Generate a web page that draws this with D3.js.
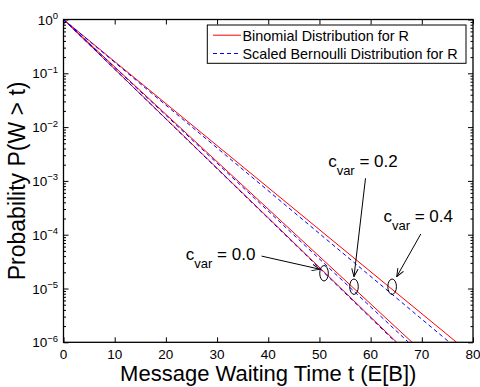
<!DOCTYPE html>
<html>
<head>
<meta charset="utf-8">
<script src="https://cdn.jsdelivr.net/npm/d3@7/dist/d3.min.js"></script>
<style>
  body { margin: 0; background: #fff; }
  svg text { font-family: "Liberation Sans", Arial, Helvetica, sans-serif; fill: #000; }
</style>
</head>
<body>
<div id="chart"></div>
<script>
// ---- data ----
// every curve is a straight line on the log axis from P=1 at t=0
// down to P=1e-6 at the t given below
var cvars = ["0.0", "0.2", "0.4"];
var startT = [0, 0, 0];
var startP = [1, 1, 1];
var binomialEndT = [65.1, 68.1, 76.8];   // red, solid
var bernoulliEndT = [64.9, 67.4, 75.4];  // blue, dashed
var endP = [1e-6, 1e-6, 1e-6];

// marked points (ellipses) on the curves
var markT = [50.9, 56.75, 64.2];
var markP = [1.92e-5, 1.08e-5, 1.08e-5];
// label anchor and arrow start/end, in data units
var labelT = [23.9, 51.7, 62.5];
var labelP = [3.39e-5, 1.84e-3, 1.75e-4];
var arrowFromT = [38.7, 59.0, 69.8];
var arrowFromP = [4.0e-5, 1.12e-3, 1.03e-4];
var arrowToT = [50.1, 56.75, 65.1];
var arrowToP = [2.28e-5, 1.66e-5, 1.66e-5];

var xTicks = [0, 10, 20, 30, 40, 50, 60, 70, 80];
var yExponents = [0, -1, -2, -3, -4, -5, -6];
var legendLabels = ["Binomial Distribution for R", "Scaled Bernoulli Distribution for R"];

// ---- drawing ----
var w = 480, h = 387;
var padL = 63.5, padR = 473, padT = 19.5, padB = 342.3;

var svg = d3.select("#chart").append("svg")
    .attr("width", w)
    .attr("height", h);

var x = d3.scaleLinear().domain([0, 80]).range([padL, padR]);
var y = d3.scaleLog().domain([1e-6, 1]).range([padB, padT]);

var defs = svg.append("defs");
defs.append("clipPath").attr("id", "plot")
   .append("rect")
   .attr("x", padL).attr("y", padT)
   .attr("width", padR - padL).attr("height", padB - padT);

defs.append("marker")
   .attr("id", "arrow")
   .attr("viewBox", "0 0 10 10")
   .attr("refX", 10).attr("refY", 5)
   .attr("markerWidth", 8).attr("markerHeight", 8)
   .attr("markerUnits", "userSpaceOnUse")
   .attr("orient", "auto")
   .append("path")
   .attr("d", "M0,1 L10,5 L0,9")
   .attr("fill", "none")
   .attr("stroke", "#000")
   .attr("stroke-width", 1.2);

// axes with inward ticks
var minorVals = [];
yExponents.forEach(function(e) {
    if (e < 0) {
        for (var k = 2; k <= 9; k++) minorVals.push(k * Math.pow(10, e));
    }
});
var majorVals = yExponents.map(function(e) { return Math.pow(10, e); });

var axisG = svg.append("g");
function inward(axis, size) { return axis.tickSizeInner(-size).tickSizeOuter(0).tickFormat(""); }

axisG.append("g").attr("transform", "translate(0," + padB + ")")
     .call(inward(d3.axisBottom(x).tickValues(xTicks), 5));
axisG.append("g").attr("transform", "translate(0," + padT + ")")
     .call(inward(d3.axisTop(x).tickValues(xTicks), 5));
axisG.append("g").attr("transform", "translate(" + padL + ",0)")
     .call(inward(d3.axisLeft(y).tickValues(majorVals), 5));
axisG.append("g").attr("transform", "translate(" + padR + ",0)")
     .call(inward(d3.axisRight(y).tickValues(majorVals), 5));
axisG.append("g").attr("transform", "translate(" + padL + ",0)")
     .call(inward(d3.axisLeft(y).tickValues(minorVals), 2.5));
axisG.append("g").attr("transform", "translate(" + padR + ",0)")
     .call(inward(d3.axisRight(y).tickValues(minorVals), 2.5));
axisG.selectAll(".domain").remove();
axisG.selectAll("line").attr("stroke", "#000").attr("stroke-width", 1);

// curves
var line = d3.line()
    .x(function(d) { return x(d[0]); })
    .y(function(d) { return y(d[1]); });

var plot = svg.append("g").attr("clip-path", "url(#plot)");
cvars.forEach(function(c, i) {
    plot.append("path")
        .attr("d", line([[startT[i], startP[i]], [binomialEndT[i], endP[i]]]))
        .attr("fill", "none")
        .attr("stroke", "#ff0000")
        .attr("stroke-width", 1);
});
cvars.forEach(function(c, i) {
    plot.append("path")
        .attr("d", line([[startT[i], startP[i]], [bernoulliEndT[i], endP[i]]]))
        .attr("fill", "none")
        .attr("stroke", "#0000ff")
        .attr("stroke-width", 1)
        .attr("stroke-dasharray", "4,3");
});

// frame
svg.append("rect")
   .attr("x", padL).attr("y", padT)
   .attr("width", padR - padL).attr("height", padB - padT)
   .attr("fill", "none")
   .attr("stroke", "#000")
   .attr("stroke-width", 1.3);

// tick labels
svg.selectAll(".xlab")
   .data(xTicks)
   .enter()
   .append("text")
   .attr("x", function(d) { return x(d); })
   .attr("y", padB + 16.5)
   .attr("text-anchor", "middle")
   .style("font-size", "13.5px")
   .text(function(d) { return d; });

var ylab = svg.selectAll(".ylab")
   .data(yExponents)
   .enter()
   .append("text")
   .attr("x", padL - 5.5)
   .attr("y", function(d) { return y(Math.pow(10, d)) + 5; })
   .attr("text-anchor", "end")
   .style("font-size", "13.5px");
ylab.append("tspan").text("10");
ylab.append("tspan")
    .attr("dy", -5.5)
    .style("font-size", "9.5px")
    .text(function(d) { return d === 0 ? "0" : "\u2212" + (-d); });

// axis titles
svg.append("text")
   .attr("x", (padL + padR) / 2)
   .attr("y", 380.5)
   .attr("text-anchor", "middle")
   .style("font-size", "22px")
   .text("Message Waiting Time t (E[B])");

svg.append("text")
   .attr("transform", "translate(25," + ((padT + padB) / 2) + ") rotate(-90)")
   .attr("text-anchor", "middle")
   .style("font-size", "23px")
   .text("Probability P(W > t)");

// annotations
cvars.forEach(function(c, i) {
    svg.append("ellipse")
       .attr("cx", x(markT[i]))
       .attr("cy", y(markP[i]))
       .attr("rx", 4.3)
       .attr("ry", 7.7)
       .attr("fill", "none")
       .attr("stroke", "#000")
       .attr("stroke-width", 1);

    svg.append("line")
       .attr("x1", x(arrowFromT[i])).attr("y1", y(arrowFromP[i]))
       .attr("x2", x(arrowToT[i])).attr("y2", y(arrowToP[i]))
       .attr("stroke", "#000")
       .attr("stroke-width", 1)
       .attr("marker-end", "url(#arrow)");

    var t = svg.append("text")
       .attr("x", x(labelT[i]))
       .attr("y", y(labelP[i]))
       .style("font-size", "17px");
    t.append("tspan").text("c");
    t.append("tspan").attr("dy", 8).style("font-size", "13px").text("var");
    t.append("tspan").attr("dy", -8).text(" = " + c);
});

// legend
var lg = svg.append("g");
lg.append("rect")
  .attr("x", 207.3).attr("y", 25)
  .attr("width", 258.7).attr("height", 38.3)
  .attr("fill", "#fff")
  .attr("stroke", "#000")
  .attr("stroke-width", 1);
legendLabels.forEach(function(label, i) {
    var ly = 35.2 + i * 18.3;
    lg.append("line")
      .attr("x1", 213).attr("x2", 241)
      .attr("y1", ly).attr("y2", ly)
      .attr("stroke", i === 0 ? "#ff0000" : "#0000ff")
      .attr("stroke-width", 1)
      .attr("stroke-dasharray", i === 0 ? null : "4,3");
    lg.append("text")
      .attr("x", 242.5)
      .attr("y", ly + 5.3)
      .style("font-size", "14.4px")
      .text(label);
});
</script>
</body>
</html>
